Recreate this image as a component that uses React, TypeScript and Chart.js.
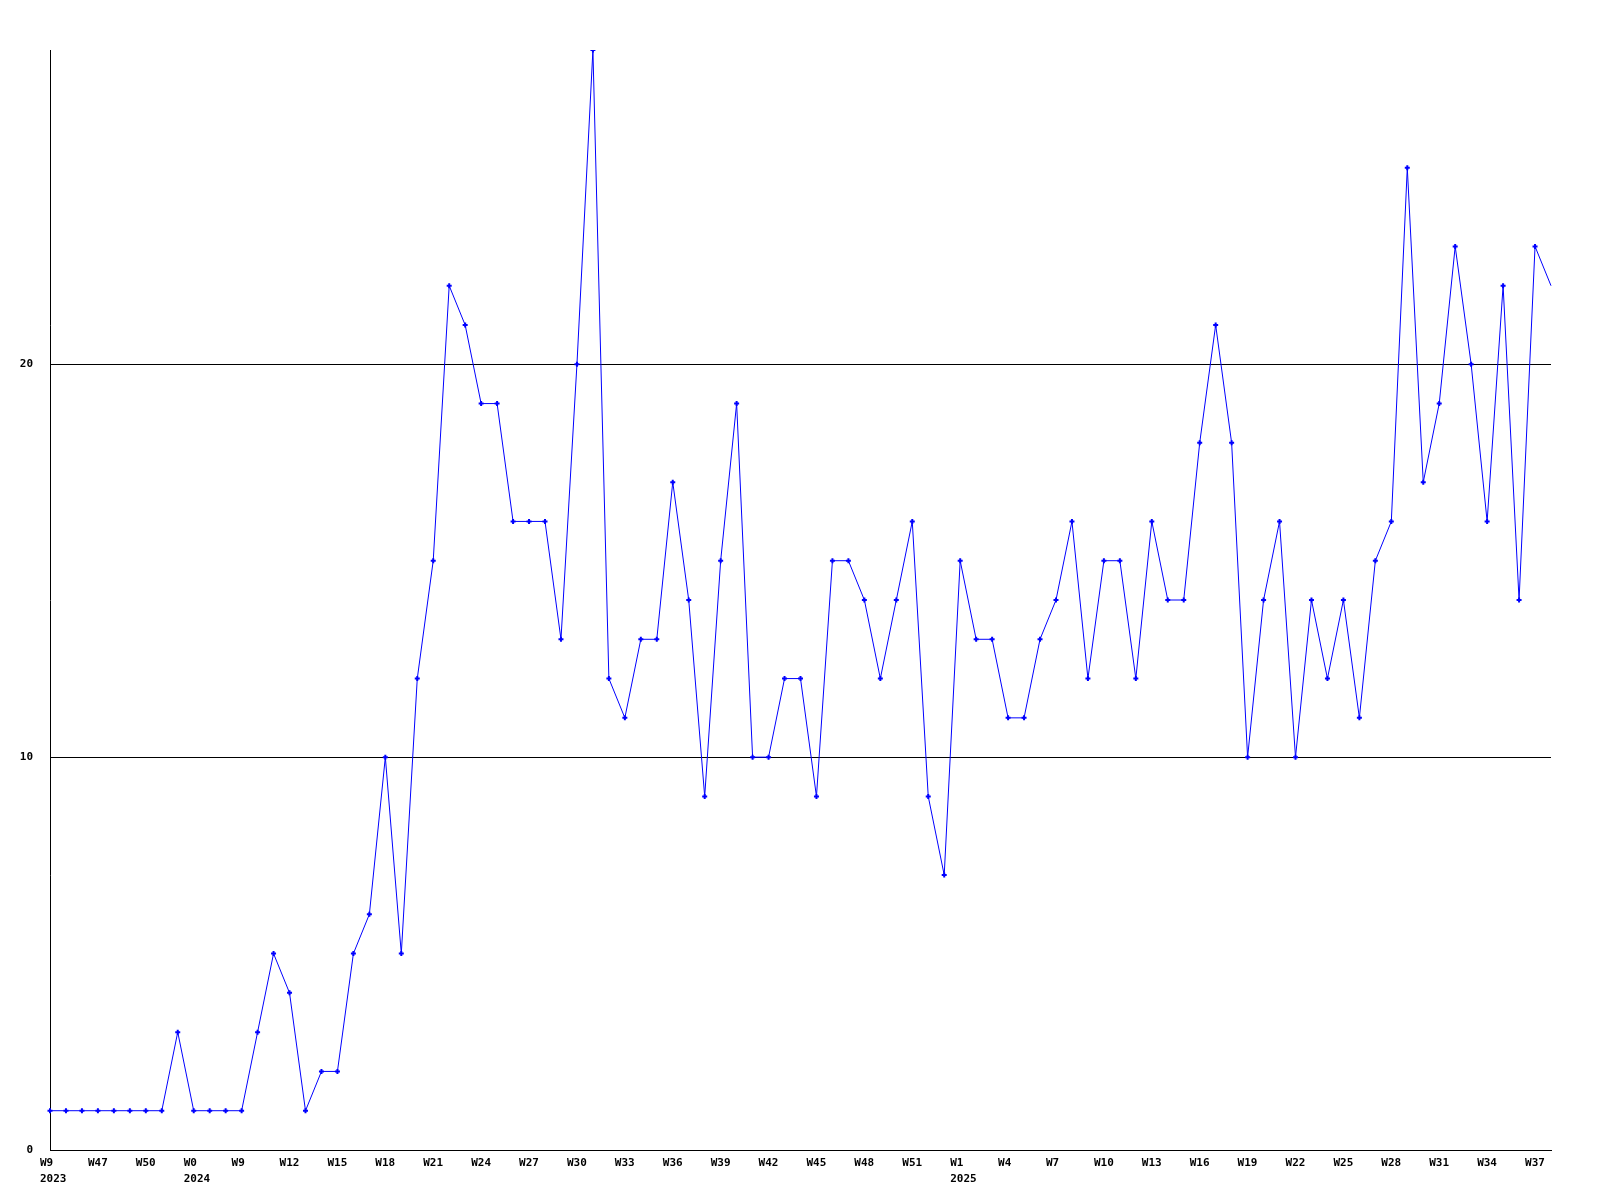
import React, { useEffect, useRef } from "react";
import { Chart, registerables } from "chart.js";

Chart.register(...registerables);

// Weekly values (one per point)
const values: number[] = [
  1, 1, 1, 1, 1, 1, 1, 1, 3, 1,
  1, 1, 1, 3, 5, 4, 1, 2, 2, 5,
  6, 10, 5, 12, 15, 22, 21, 19, 19, 16,
  16, 16, 13, 20, 28, 12, 11, 13, 13, 17,
  14, 9, 15, 19, 10, 10, 12, 12, 9, 15,
  15, 14, 12, 14, 16, 9, 7, 15, 13, 13,
  11, 11, 13, 14, 16, 12, 15, 15, 12, 16,
  14, 14, 18, 21, 18, 10, 14, 16, 10, 14,
  12, 14, 11, 15, 16, 25, 17, 19, 23, 20,
  16, 22, 14, 23, 22,
];

// Tick labels shown every 3rd point
const weekTicks: string[] = [
  "W9", "W47", "W50", "W0", "W9", "W12", "W15", "W18", "W21", "W24", "W27",
  "W30", "W33", "W36", "W39", "W42", "W45", "W48", "W51", "W1", "W4", "W7",
  "W10", "W13", "W16", "W19", "W22", "W25", "W28", "W31", "W34", "W37",
];
const yearTicks: string[] = [
  "2023", "", "", "2024", "", "", "", "", "", "", "",
  "", "", "", "", "", "", "", "", "2025", "", "",
  "", "", "", "", "", "", "", "", "", "",
];
const tickEvery = 3;
const yTickValues: number[] = [0, 10, 20];
const yMax = 28;

export default function App() {
  const ref = useRef<HTMLCanvasElement | null>(null);

  useEffect(() => {
    if (!ref.current) return;
    const labels = values.map((_, i) => String(i));
    const font = { family: "'DejaVu Sans Mono', monospace", size: 11, weight: "bold" as const, lineHeight: 16 / 11 };
    const chart = new Chart(ref.current, {
      type: "line",
      data: {
        labels,
        datasets: [
          {
            data: values,
            borderColor: "#0000ff",
            backgroundColor: "#0000ff",
            borderWidth: 1,
            pointStyle: "cross",
            pointRadius: values.map((_, i) => (i === values.length - 1 ? 0 : 2.5)),
            pointBorderWidth: 2,
            pointBorderColor: "#0000ff",
            tension: 0,
            fill: false,
          },
        ],
      },
      options: {
        animation: false,
        responsive: false,
        maintainAspectRatio: false,
        layout: { padding: { left: 0, top: 50, right: 49, bottom: 0 } },
        plugins: { legend: { display: false }, tooltip: { enabled: false }, title: { display: false } },
        scales: {
          x: {
            type: "category",
            offset: false,
            grid: { display: false, drawTicks: false },
            border: { display: true, color: "#000000", width: 1 },
            ticks: {
              autoSkip: false,
              maxRotation: 0,
              minRotation: 0,
              align: "start",
              labelOffset: -10,
              padding: 5,
              color: "#000000",
              font,
              callback: (_v: any, i: number) => {
                if (i % tickEvery !== 0) return "";
                const k = i / tickEvery;
                const w = weekTicks[k] ?? "";
                const y = yearTicks[k] ?? "";
                return y ? [w, y] : w;
              },
            },
            afterFit: (s: any) => {
              s.height = 50;
            },
          },
          y: {
            type: "linear",
            min: 0,
            max: yMax,
            grid: {
              display: true,
              drawTicks: false,
              color: "#000000",
              lineWidth: 1,
            },
            border: { display: true, color: "#000000", width: 1 },
            afterBuildTicks: (s: any) => {
              s.ticks = yTickValues.map((v) => ({ value: v }));
            },
            ticks: {
              padding: 17,
              color: "#000000",
              font,
              callback: (v: any) => String(v),
            },
            afterFit: (s: any) => {
              s.width = 50;
            },
          },
        },
      },
    });
    return () => chart.destroy();
  }, []);

  return (
    <div style={{ position: "fixed", left: 0, top: 0, width: 1600, height: 1200, background: "#ffffff" }}>
      <canvas ref={ref} width={1600} height={1200} style={{ width: 1600, height: 1200, display: "block" }} />
    </div>
  );
}
